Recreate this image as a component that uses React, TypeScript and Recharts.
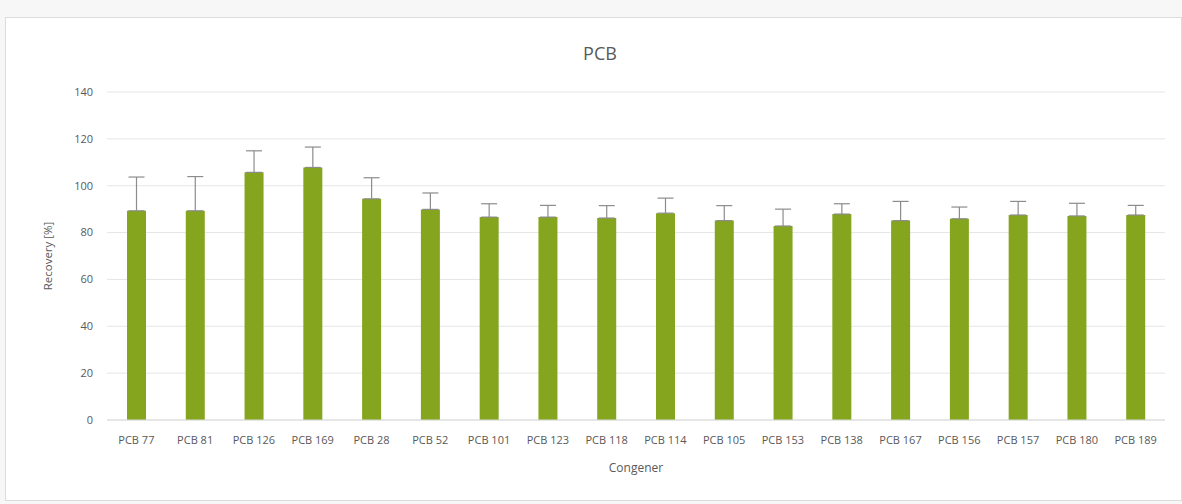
import { BarChart, Bar, XAxis, YAxis, CartesianGrid, ErrorBar } from 'recharts';

const congeners = [
  'PCB 77', 'PCB 81', 'PCB 126', 'PCB 169', 'PCB 28', 'PCB 52', 'PCB 101', 'PCB 123', 'PCB 118',
  'PCB 114', 'PCB 105', 'PCB 153', 'PCB 138', 'PCB 167', 'PCB 156', 'PCB 157', 'PCB 180', 'PCB 189',
];
const recovery = [89.3, 89.3, 105.7, 107.8, 94.4, 89.9, 86.6, 86.6, 86.2, 88.3, 85.1, 82.8, 87.9, 85.1, 85.9, 87.5, 87.1, 87.5];
const sd = [14.4, 14.6, 9.2, 8.7, 9.0, 7.0, 5.7, 5.0, 5.3, 6.4, 6.4, 7.2, 4.4, 8.2, 5.0, 5.8, 5.4, 4.1];
const yTicks = [0, 20, 40, 60, 80, 100, 120, 140];

const FONT = '"Open Sans", sans-serif';
const TEXT = '#595959';

export default function App() {
  const data = congeners.map((name, i) => ({ name, value: recovery[i], err: [0, sd[i]] }));

  return (
    <div style={{ position: 'absolute', left: 0, top: 0, width: 1182, height: 504, background: '#f7f7f7', fontFamily: FONT }}>
      <div style={{ position: 'absolute', left: 5, top: 17, width: 1177, height: 484, background: '#fff', border: '1px solid #dcdcdc', boxSizing: 'border-box' }} />
      <div style={{ position: 'absolute', left: 0, top: 41, width: 1200, textAlign: 'center', fontSize: 18, color: TEXT }}>PCB</div>
      <div style={{ position: 'absolute', left: 0, top: 0 }}>
        <BarChart width={1182} height={504} data={data} margin={{ top: 92, right: 17, left: 30, bottom: 30 }} barCategoryGap="33%">
          <CartesianGrid vertical={false} stroke="#e6e6e6" />
          <XAxis
            dataKey="name"
            interval={0}
            tickLine={false}
            axisLine={{ stroke: '#d9d9d9' }}
            tickMargin={10}
            height={54}
            tick={{ fill: TEXT, fontSize: 11, fontFamily: FONT }}
            label={{ value: 'Congener', position: 'insideBottom', offset: 2, fill: TEXT, fontSize: 12, fontFamily: FONT }}
          />
          <YAxis
            domain={[0, 140]}
            ticks={yTicks}
            axisLine={false}
            tickLine={false}
            width={77}
            tickMargin={8}
            tick={{ fill: TEXT, fontSize: 11, fontFamily: FONT }}
            label={{ value: 'Recovery [%]', angle: -90, position: 'insideLeft', offset: 18, fill: TEXT, fontSize: 11.5, fontFamily: FONT, style: { textAnchor: 'middle' } }}
          />
          <Bar dataKey="value" fill="#84a51d" barSize={19} isAnimationActive={false}>
            <ErrorBar dataKey="err" width={8} stroke="#8c8c8c" strokeWidth={1.2} direction="y" />
          </Bar>
        </BarChart>
      </div>
    </div>
  );
}
